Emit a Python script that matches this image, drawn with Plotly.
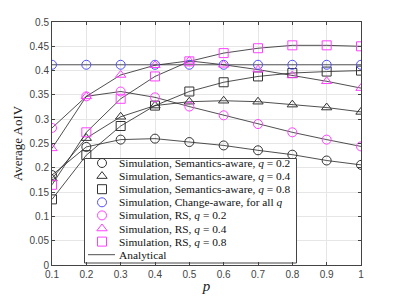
import plotly.graph_objects as go

p = [0.1, 0.2, 0.3, 0.4, 0.5, 0.6, 0.7, 0.8, 0.9, 1.0]

sem_q02 = [0.185, 0.243, 0.258, 0.260, 0.253, 0.246, 0.236, 0.227, 0.215, 0.206]
sem_q04 = [0.178, 0.261, 0.305, 0.328, 0.336, 0.338, 0.336, 0.330, 0.324, 0.315]
sem_q08 = [0.135, 0.226, 0.286, 0.328, 0.357, 0.376, 0.388, 0.395, 0.398, 0.400]
change_aware = [0.412, 0.412, 0.412, 0.412, 0.412, 0.412, 0.412, 0.412, 0.412, 0.412]
rs_q02 = [0.282, 0.347, 0.357, 0.345, 0.326, 0.308, 0.290, 0.273, 0.258, 0.244]
rs_q04 = [0.240, 0.347, 0.391, 0.411, 0.420, 0.412, 0.402, 0.390, 0.378, 0.364]
rs_q08 = [0.165, 0.273, 0.342, 0.388, 0.419, 0.436, 0.446, 0.452, 0.452, 0.450]

x_ticks = [0.1, 0.2, 0.3, 0.4, 0.5, 0.6, 0.7, 0.8, 0.9, 1]
x_labels = ["0.1", "0.2", "0.3", "0.4", "0.5", "0.6", "0.7", "0.8", "0.9", "1"]
y_ticks = [0, 0.05, 0.1, 0.15, 0.2, 0.25, 0.3, 0.35, 0.4, 0.45, 0.5]
y_labels = ["0", "0.05", "0.1", "0.15", "0.2", "0.25", "0.3", "0.35", "0.4", "0.45", "0.5"]

BLACK = "#333333"
BLUE = "#5050ff"
MAGENTA = "#ff40ff"

sim_series = [
    ("Simulation, Semantics-aware, <i>q</i> = 0.2", sem_q02, "circle-open", BLACK),
    ("Simulation, Semantics-aware, <i>q</i> = 0.4", sem_q04, "triangle-up-open", BLACK),
    ("Simulation, Semantics-aware, <i>q</i> = 0.8", sem_q08, "square-open", BLACK),
    ("Simulation, Change-aware, for all <i>q</i>", change_aware, "circle-open", BLUE),
    ("Simulation, RS, <i>q</i> = 0.2", rs_q02, "circle-open", MAGENTA),
    ("Simulation, RS, <i>q</i> = 0.4", rs_q04, "triangle-up-open", MAGENTA),
    ("Simulation, RS, <i>q</i> = 0.8", rs_q08, "square-open", MAGENTA),
]

# Page body has an 8px default margin, so the figure is sized to fill the
# rest of the 399x299 window; plot area spans x 52..361, y 22..265 on screen.
OFF = 8
W, H = 399 - OFF, 299 - OFF
L, R, T, B = 52 - OFF, 38, 22 - OFF, 34
PX_L, PX_R, PX_T, PX_B = 52, 361, 22, 265

fig = go.Figure()

# analytical lines
for _, vals, _, _ in sim_series:
    fig.add_trace(go.Scatter(x=p, y=vals, mode="lines",
                             line=dict(color="#222222", width=0.8),
                             showlegend=False, hoverinfo="skip"))

# simulation markers
for name, vals, sym, col in sim_series:
    fig.add_trace(go.Scatter(x=p, y=vals, mode="markers", name=name, showlegend=False,
                             marker=dict(symbol=sym, size=9, color=col,
                                         line=dict(width=1, color=col))))

# ---- manual legend on an overlay axis in screen-pixel coordinates ----
box_l, box_r, box_t, box_b = 84.5, 296.5, 158.5, 263
row_y0, row_dy = 163, 13.1
sym_x, text_x = 102, 117
LEG_FONT = dict(family="Liberation Serif, serif", size=11.4, color="#111111")

fig.add_trace(go.Scatter(
    x=[box_l, box_r, box_r, box_l, box_l], y=[box_t, box_t, box_b, box_b, box_t],
    mode="lines", fill="toself", fillcolor="white",
    line=dict(color="#444444", width=1), xaxis="x2", yaxis="y2",
    showlegend=False, hoverinfo="skip"))

for i, (name, _, sym, col) in enumerate(sim_series):
    yy = row_y0 + i * row_dy
    fig.add_trace(go.Scatter(x=[sym_x], y=[yy], mode="markers", xaxis="x2", yaxis="y2",
                             marker=dict(symbol=sym, size=9, color=col, line=dict(width=1, color=col)),
                             showlegend=False, hoverinfo="skip"))
    fig.add_annotation(x=text_x, y=yy, xref="x2", yref="y2", text=name, showarrow=False,
                       xanchor="left", yanchor="middle", font=LEG_FONT)

ya = row_y0 + 7 * row_dy
fig.add_trace(go.Scatter(x=[88, 115], y=[ya, ya], mode="lines", xaxis="x2", yaxis="y2",
                         line=dict(color="#222222", width=0.8), showlegend=False, hoverinfo="skip"))
fig.add_annotation(x=text_x, y=ya, xref="x2", yref="y2", text="Analytical", showarrow=False,
                   xanchor="left", yanchor="middle", font=LEG_FONT)

axis_common = dict(
    showline=True, linecolor="#444444", linewidth=1, mirror="ticks",
    ticks="inside", ticklen=3, tickcolor="#444444",
    showgrid=True, gridcolor="#e6e6e6", gridwidth=1, zeroline=False,
    tickfont=dict(family="Liberation Sans, Arial, sans-serif", size=10, color="#444444"),
)

fig.update_layout(
    width=W, height=H,
    margin=dict(l=L, r=R, t=T, b=B, autoexpand=False),
    paper_bgcolor="white", plot_bgcolor="white",
    showlegend=False,
    xaxis=dict(range=[0.1, 1], tickvals=x_ticks, ticktext=x_labels,
               title=dict(text="<i>p</i>", font=dict(family="Liberation Serif, serif", size=15, color="#222222"), standoff=1),
               **axis_common),
    yaxis=dict(range=[0, 0.5], tickvals=y_ticks, ticktext=y_labels,
               title=dict(text="Average AoIV", font=dict(family="Liberation Serif, serif", size=13, color="#222222"), standoff=3),
               **axis_common),
    xaxis2=dict(overlaying="x", range=[PX_L, PX_R], visible=False, fixedrange=True),
    yaxis2=dict(overlaying="y", range=[PX_B, PX_T], visible=False, fixedrange=True),
)

fig.write_html("out.html")
